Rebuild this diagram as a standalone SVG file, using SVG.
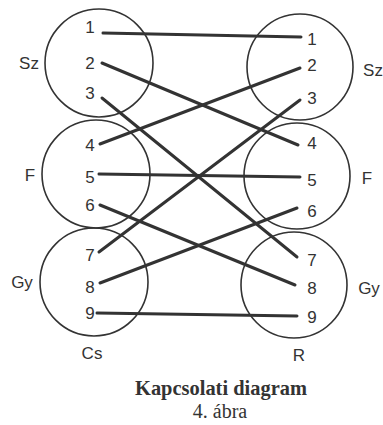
<svg xmlns="http://www.w3.org/2000/svg" width="383" height="425" viewBox="0 0 383 425">
<style>
.c{fill:none;stroke:#333;stroke-width:1.6}
.w{stroke:#333;stroke-width:3;stroke-linecap:round}
.n{font-family:"Liberation Sans","DejaVu Sans",sans-serif;font-size:17px;fill:#333;text-anchor:middle}
.t{font-family:"Liberation Serif",serif;fill:#333;text-anchor:middle}
</style>
<rect width="383" height="425" fill="#fff"/>
<g id="left-Sz"><circle class="c" cx="99" cy="63" r="54"/><text class="n" x="29" y="69">Sz</text></g>
<g id="left-F"><circle class="c" cx="96" cy="174" r="54"/><text class="n" x="30" y="181">F</text></g>
<g id="left-Gy"><circle class="c" cx="94" cy="282" r="54"/><text class="n" x="22" y="288">Gy</text></g>
<g id="right-Sz"><circle class="c" cx="300" cy="67" r="53"/><text class="n" x="373" y="76">Sz</text></g>
<g id="right-F"><circle class="c" cx="297" cy="176" r="53"/><text class="n" x="367" y="184">F</text></g>
<g id="right-Gy"><circle class="c" cx="294" cy="285" r="53"/><text class="n" x="369" y="294">Gy</text></g>
<g id="left-nums">
<text class="n" x="90" y="33">1</text><text class="n" x="90" y="69">2</text><text class="n" x="90" y="99">3</text>
<text class="n" x="90" y="151">4</text><text class="n" x="90" y="183">5</text><text class="n" x="90" y="211">6</text>
<text class="n" x="90" y="261">7</text><text class="n" x="90" y="293">8</text><text class="n" x="90" y="319">9</text>
</g>
<g id="right-nums">
<text class="n" x="312" y="45">1</text><text class="n" x="312" y="71">2</text><text class="n" x="312" y="104">3</text>
<text class="n" x="312" y="149">4</text><text class="n" x="312" y="186">5</text><text class="n" x="312" y="217">6</text>
<text class="n" x="312" y="266">7</text><text class="n" x="312" y="294">8</text><text class="n" x="312" y="323">9</text>
</g>
<g id="connectors">
<line class="w" x1="103" y1="33" x2="301" y2="37"/>
<line class="w" x1="102" y1="63" x2="298" y2="145"/>
<line class="w" x1="102" y1="98" x2="297" y2="257"/>
<line class="w" x1="100" y1="144" x2="300" y2="68"/>
<line class="w" x1="99" y1="174" x2="300" y2="177"/>
<line class="w" x1="100" y1="205" x2="295" y2="285"/>
<line class="w" x1="99" y1="252" x2="300" y2="100"/>
<line class="w" x1="100" y1="283" x2="297" y2="208"/>
<line class="w" x1="97" y1="313" x2="297" y2="316"/>
</g>
<text class="n" x="92" y="359">Cs</text>
<text class="n" x="299" y="361">R</text>
<text class="t" x="221" y="395" font-size="21" font-weight="bold" textLength="172" lengthAdjust="spacingAndGlyphs">Kapcsolati diagram</text>
<text class="t" x="220" y="418" font-size="20">4. ábra</text>
</svg>
